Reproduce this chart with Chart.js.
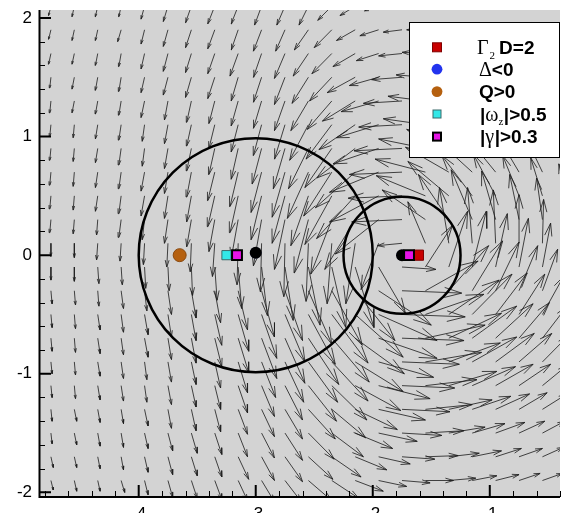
<!DOCTYPE html>
<html><head><meta charset="utf-8">
<script src="https://cdn.jsdelivr.net/npm/chart.js@4.4.1/dist/chart.umd.min.js"></script>
<style>html,body{margin:0;padding:0;background:#fff;overflow:hidden}#wrap{width:569px;height:513px;position:relative}</style>
</head><body><div id="wrap"><canvas id="c" width="569" height="513"></canvas></div>
<script>
// ---- vector field grid (arrow tails) ----
const xGrid = [-4.75,-4.55,-4.35,-4.15,-3.95,-3.75,-3.55,-3.35,-3.15,-2.95,-2.75,-2.55,-2.35,-2.15,-1.95,-1.75,-1.55,-1.35,-1.15,-0.95,-0.75,-0.55,-0.35];
const yGrid = [-1.9,-1.7,-1.5,-1.3,-1.1,-0.9,-0.7,-0.5,-0.3,-0.1,0.1,0.3,0.5,0.7,0.9,1.1,1.3,1.5,1.7,1.9,2.1];
// u component of each arrow (one row per yGrid value)
const uRows = [
[0.02,0.02,0.02,0.03,0.03,0.04,0.05,0.06,0.08,0.11,0.14,0.20,0.23,0.24,0.24,0.24,0.24,0.23,0.21,0.20,0.18,0.17,0.15],
[0.02,0.02,0.02,0.02,0.03,0.04,0.05,0.06,0.09,0.11,0.15,0.21,0.25,0.27,0.27,0.28,0.28,0.26,0.25,0.22,0.20,0.18,0.16],
[0.01,0.02,0.02,0.02,0.03,0.04,0.05,0.06,0.08,0.11,0.15,0.22,0.27,0.32,0.33,0.34,0.33,0.31,0.28,0.25,0.22,0.19,0.17],
[0.01,0.02,0.02,0.02,0.03,0.03,0.04,0.05,0.08,0.11,0.15,0.23,0.29,0.36,0.40,0.41,0.40,0.37,0.33,0.29,0.24,0.21,0.18],
[0.01,0.01,0.02,0.02,0.02,0.03,0.04,0.05,0.08,0.11,0.15,0.24,0.30,0.39,0.44,0.45,0.44,0.41,0.37,0.32,0.27,0.21,0.18],
[0.01,0.01,0.02,0.02,0.02,0.03,0.04,0.05,0.08,0.12,0.16,0.25,0.31,0.41,0.47,0.49,0.48,0.44,0.38,0.33,0.28,0.22,0.18],
[0.01,0.01,0.02,0.02,0.03,0.03,0.04,0.06,0.09,0.13,0.17,0.26,0.32,0.42,0.50,0.53,0.51,0.45,0.38,0.32,0.26,0.21,0.16],
[0.01,0.01,0.02,0.02,0.03,0.03,0.04,0.06,0.09,0.13,0.17,0.23,0.31,0.41,0.50,0.54,0.50,0.43,0.34,0.27,0.22,0.18,0.14],
[0.01,0.01,0.01,0.02,0.02,0.03,0.04,0.05,0.08,0.11,0.15,0.20,0.26,0.34,0.45,0.51,0.45,0.34,0.26,0.20,0.16,0.13,0.11],
[0.00,0.00,0.01,0.01,0.01,0.01,0.01,0.02,0.03,0.05,0.07,0.10,0.12,0.16,0.23,0.29,0.23,0.16,0.12,0.10,0.08,0.07,0.06],
[0.00,0.00,-0.01,-0.01,-0.01,-0.01,-0.01,-0.02,-0.01,-0.01,-0.01,-0.02,-0.04,-0.08,-0.15,-0.21,-0.15,-0.08,-0.04,-0.02,0.00,0.01,0.02],
[-0.01,-0.01,-0.01,-0.02,-0.02,-0.03,-0.04,-0.05,-0.06,-0.07,-0.09,-0.12,-0.18,-0.26,-0.37,-0.43,-0.37,-0.26,-0.18,-0.12,-0.08,-0.05,-0.03],
[-0.01,-0.01,-0.02,-0.02,-0.03,-0.03,-0.04,-0.06,-0.07,-0.09,-0.11,-0.15,-0.23,-0.33,-0.42,-0.46,-0.42,-0.35,-0.26,-0.19,-0.14,-0.10,-0.06],
[-0.01,-0.01,-0.02,-0.02,-0.03,-0.03,-0.04,-0.06,-0.07,-0.09,-0.11,-0.18,-0.24,-0.34,-0.42,-0.45,-0.43,-0.37,-0.30,-0.24,-0.18,-0.13,-0.08],
[-0.01,-0.01,-0.02,-0.02,-0.02,-0.03,-0.04,-0.05,-0.06,-0.08,-0.10,-0.17,-0.23,-0.33,-0.39,-0.41,-0.40,-0.36,-0.30,-0.25,-0.20,-0.14,-0.10],
[-0.01,-0.01,-0.02,-0.02,-0.02,-0.03,-0.04,-0.05,-0.06,-0.07,-0.09,-0.16,-0.22,-0.31,-0.36,-0.37,-0.36,-0.33,-0.29,-0.24,-0.19,-0.13,-0.10],
[-0.01,-0.02,-0.02,-0.02,-0.03,-0.03,-0.04,-0.05,-0.06,-0.07,-0.09,-0.15,-0.21,-0.28,-0.32,-0.33,-0.32,-0.29,-0.25,-0.21,-0.16,-0.13,-0.10],
[-0.01,-0.02,-0.02,-0.02,-0.03,-0.04,-0.05,-0.06,-0.06,-0.07,-0.09,-0.14,-0.19,-0.24,-0.25,-0.26,-0.25,-0.23,-0.20,-0.17,-0.14,-0.11,-0.09],
[-0.02,-0.02,-0.02,-0.02,-0.03,-0.04,-0.05,-0.06,-0.07,-0.07,-0.09,-0.13,-0.17,-0.19,-0.19,-0.20,-0.20,-0.18,-0.17,-0.14,-0.12,-0.10,-0.08],
[-0.02,-0.02,-0.02,-0.03,-0.03,-0.04,-0.05,-0.06,-0.06,-0.07,-0.08,-0.12,-0.15,-0.16,-0.16,-0.16,-0.16,-0.15,-0.13,-0.12,-0.10,-0.09,-0.07],
[-0.02,-0.02,-0.02,-0.02,-0.03,-0.04,-0.05,-0.06,-0.06,-0.06,-0.07,-0.08,-0.12,-0.13,-0.12,-0.13,-0.13,-0.12,-0.11,-0.10,-0.09,-0.07,-0.06]
];
// v component of each arrow
const vRows = [
[-0.08,-0.09,-0.09,-0.10,-0.12,-0.14,-0.15,-0.16,-0.17,-0.18,-0.18,-0.17,-0.15,-0.09,-0.05,-0.02,0.00,0.02,0.04,0.05,0.06,0.06,0.06],
[-0.09,-0.09,-0.10,-0.11,-0.13,-0.15,-0.16,-0.17,-0.19,-0.20,-0.21,-0.19,-0.17,-0.11,-0.06,-0.02,0.01,0.03,0.05,0.07,0.07,0.08,0.08],
[-0.09,-0.10,-0.11,-0.12,-0.13,-0.15,-0.17,-0.18,-0.20,-0.21,-0.23,-0.22,-0.20,-0.13,-0.07,-0.02,0.02,0.05,0.08,0.09,0.10,0.10,0.10],
[-0.10,-0.10,-0.11,-0.12,-0.14,-0.16,-0.18,-0.19,-0.21,-0.23,-0.25,-0.25,-0.24,-0.17,-0.09,-0.02,0.04,0.08,0.11,0.13,0.14,0.13,0.13],
[-0.10,-0.11,-0.12,-0.13,-0.14,-0.16,-0.18,-0.20,-0.23,-0.26,-0.29,-0.30,-0.29,-0.21,-0.11,-0.02,0.05,0.12,0.16,0.18,0.18,0.17,0.16],
[-0.10,-0.11,-0.12,-0.14,-0.15,-0.17,-0.19,-0.22,-0.26,-0.30,-0.34,-0.34,-0.33,-0.25,-0.13,-0.02,0.08,0.16,0.21,0.24,0.24,0.22,0.19],
[-0.11,-0.12,-0.13,-0.14,-0.16,-0.18,-0.21,-0.24,-0.29,-0.34,-0.38,-0.39,-0.37,-0.30,-0.17,-0.02,0.11,0.21,0.27,0.29,0.30,0.27,0.23],
[-0.11,-0.12,-0.13,-0.15,-0.17,-0.19,-0.22,-0.26,-0.31,-0.37,-0.40,-0.42,-0.41,-0.36,-0.22,-0.02,0.17,0.29,0.34,0.35,0.34,0.32,0.27],
[-0.11,-0.12,-0.13,-0.15,-0.17,-0.20,-0.23,-0.27,-0.33,-0.39,-0.42,-0.45,-0.46,-0.42,-0.29,-0.02,0.25,0.38,0.42,0.41,0.38,0.35,0.29],
[-0.11,-0.12,-0.14,-0.15,-0.18,-0.20,-0.24,-0.28,-0.35,-0.41,-0.45,-0.49,-0.51,-0.51,-0.39,-0.02,0.35,0.47,0.47,0.45,0.41,0.37,0.31],
[-0.11,-0.12,-0.14,-0.15,-0.18,-0.20,-0.24,-0.28,-0.35,-0.41,-0.45,-0.49,-0.51,-0.51,-0.39,-0.02,0.35,0.47,0.47,0.45,0.41,0.37,0.31],
[-0.11,-0.12,-0.13,-0.15,-0.17,-0.20,-0.23,-0.27,-0.33,-0.39,-0.42,-0.45,-0.46,-0.42,-0.29,-0.02,0.25,0.38,0.42,0.41,0.38,0.35,0.29],
[-0.11,-0.12,-0.13,-0.15,-0.17,-0.19,-0.22,-0.26,-0.31,-0.37,-0.40,-0.42,-0.41,-0.36,-0.22,-0.02,0.17,0.29,0.34,0.35,0.34,0.32,0.27],
[-0.11,-0.12,-0.13,-0.14,-0.16,-0.18,-0.21,-0.24,-0.29,-0.34,-0.38,-0.39,-0.37,-0.30,-0.17,-0.02,0.11,0.21,0.27,0.29,0.30,0.27,0.23],
[-0.10,-0.11,-0.12,-0.14,-0.15,-0.17,-0.19,-0.22,-0.26,-0.30,-0.34,-0.34,-0.33,-0.25,-0.13,-0.02,0.08,0.16,0.21,0.24,0.24,0.22,0.19],
[-0.10,-0.11,-0.12,-0.13,-0.14,-0.16,-0.18,-0.20,-0.23,-0.26,-0.29,-0.30,-0.29,-0.21,-0.11,-0.02,0.05,0.12,0.16,0.18,0.18,0.17,0.16],
[-0.10,-0.10,-0.11,-0.12,-0.14,-0.16,-0.18,-0.19,-0.21,-0.23,-0.25,-0.25,-0.24,-0.17,-0.09,-0.02,0.04,0.08,0.11,0.13,0.14,0.13,0.13],
[-0.09,-0.10,-0.11,-0.12,-0.13,-0.15,-0.17,-0.18,-0.20,-0.21,-0.23,-0.22,-0.20,-0.13,-0.07,-0.02,0.02,0.05,0.08,0.09,0.10,0.10,0.10],
[-0.09,-0.09,-0.10,-0.11,-0.13,-0.15,-0.16,-0.17,-0.19,-0.20,-0.21,-0.19,-0.17,-0.11,-0.06,-0.02,0.01,0.03,0.05,0.07,0.07,0.08,0.08],
[-0.08,-0.09,-0.09,-0.10,-0.12,-0.14,-0.15,-0.16,-0.17,-0.18,-0.18,-0.17,-0.15,-0.09,-0.05,-0.02,0.00,0.02,0.04,0.05,0.06,0.06,0.06],
[-0.08,-0.09,-0.09,-0.09,-0.11,-0.13,-0.14,-0.15,-0.15,-0.16,-0.16,-0.16,-0.12,-0.08,-0.04,-0.02,0.00,0.01,0.02,0.03,0.04,0.05,0.05]
];
// ---- circles ----
const circleCenterX = [-3.0, -1.75];
const circleCenterY = [0.0, 0.0];
const circleRadius = [1.0, 0.5];
// ---- point markers ----
const seriesLabels = ['\u0393\u2082 D=2', '\u0394<0', 'Q>0', '|\u03c9z|>0.5', '|\u03b3|>0.3'];
const gamma2X = [-1.61];        const gamma2Y = [0.0];
const deltaX = [-3.0, -1.75];   const deltaY = [0.02, 0.0];
const qX = [-3.65];             const qY = [0.0];
const omegaX = [-3.25];         const omegaY = [0.0];
const shearX = [-3.16, -1.69];  const shearY = [0.0, 0.0];
const centerX = [-3.0, -1.75];  const centerY = [0.02, 0.0];
// ---- axes ----
const xTicks = [-4, -3, -2, -1];
const yTicks = [-2, -1, 0, 1, 2];
const xRange = [-4.852, -0.40];
const yRange = [-2.039, 2.067];
const minorStep = 0.2;

const pts = (xs, ys) => xs.map((x, i) => ({x: x, y: ys[i]}));

// arrow polylines (shaft + open head) built from the grid and components
const arrowData = [];
const headFrac = 0.3, headAng = 16 * Math.PI / 180;
yGrid.forEach((y0, j) => xGrid.forEach((x0, k) => {
  const u = uRows[j][k], v = vRows[j][k];
  const L = Math.hypot(u, v);
  if (!L) return;
  const hx = x0 + u, hy = y0 + v, a = Math.atan2(v, u), h = L * headFrac;
  arrowData.push({x: x0, y: y0}, {x: hx, y: hy}, {x: hx, y: null},
    {x: hx - h * Math.cos(a - headAng), y: hy - h * Math.sin(a - headAng)}, {x: hx, y: hy},
    {x: hx - h * Math.cos(a + headAng), y: hy - h * Math.sin(a + headAng)}, {x: hx, y: null});
}));

const COL = {red:'#c80000', blue:'#2233ee', orange:'#b5600f', cyan:'#33e8e8', magenta:'#e614e6'};

const bgPlugin = {
  id: 'bg',
  beforeDraw(chart) {
    const {ctx, chartArea: a} = chart;
    ctx.save();
    ctx.fillStyle = '#fff'; ctx.fillRect(0, 0, chart.width, chart.height);
    ctx.fillStyle = '#d3d3d3'; ctx.fillRect(a.left, a.top, a.right - a.left, a.bottom - a.top);
    ctx.restore();
  }
};

const axesPlugin = {
  id: 'axesInward',
  afterDatasetsDraw(chart) {
    const {ctx, chartArea: a, scales: {x, y}} = chart;
    ctx.save();
    ctx.strokeStyle = '#000';
    ctx.lineWidth = 1;
    ctx.beginPath();
    for (let i = Math.ceil(yRange[0] / minorStep); i * minorStep <= yRange[1]; i++) {
      const v = i * minorStep; if (Math.abs(v - Math.round(v)) < 1e-6) continue;
      const p = Math.round(y.getPixelForValue(v)) + 0.5;
      ctx.moveTo(a.left, p); ctx.lineTo(a.left + 6, p);
    }
    for (let i = Math.ceil(xRange[0] / minorStep); i * minorStep <= xRange[1]; i++) {
      const v = i * minorStep; if (Math.abs(v - Math.round(v)) < 1e-6) continue;
      const p = Math.round(x.getPixelForValue(v)) + 0.5;
      ctx.moveTo(p, a.bottom); ctx.lineTo(p, a.bottom - 6);
    }
    ctx.stroke();
    ctx.lineWidth = 2;
    ctx.beginPath();
    yTicks.forEach(v => { const p = y.getPixelForValue(v); ctx.moveTo(a.left, p); ctx.lineTo(a.left + 12, p); });
    xTicks.forEach(v => { const p = x.getPixelForValue(v); ctx.moveTo(p, a.bottom); ctx.lineTo(p, a.bottom - 12); });
    ctx.stroke();
    ctx.beginPath();
    ctx.moveTo(a.left + 0.5, a.top); ctx.lineTo(a.left + 0.5, a.bottom + 1);
    ctx.moveTo(a.left - 0.5, a.bottom); ctx.lineTo(a.right, a.bottom);
    ctx.stroke();
    ctx.restore();
  }
};

const legendPlugin = {
  id: 'fieldLegend',
  afterDraw(chart) {
    const ctx = chart.ctx;
    const bx = 409, by = 22, bw = 150, bh = 135;
    ctx.save();
    ctx.fillStyle = '#fff'; ctx.fillRect(bx, by, bw, bh);
    ctx.strokeStyle = '#000'; ctx.lineWidth = 1; ctx.strokeRect(bx + 0.5, by + 0.5, bw, bh);
    const mx = 437, rows = [47.3, 69.2, 91.6, 114, 136.6];
    const sq = (cy, s, fill, border, bwid) => {
      ctx.fillStyle = fill; ctx.fillRect(mx - s / 2, cy - s / 2, s, s);
      ctx.strokeStyle = border; ctx.lineWidth = bwid; ctx.strokeRect(mx - s / 2, cy - s / 2, s, s);
    };
    const ci = (cy, r, fill) => { ctx.fillStyle = fill; ctx.beginPath(); ctx.arc(mx, cy, r, 0, 2 * Math.PI); ctx.fill(); };
    sq(rows[0], 9, COL.red, '#800000', 1);
    ci(rows[1], 5.4, COL.blue);
    ci(rows[2], 5.4, COL.orange);
    sq(rows[3], 8, COL.cyan, '#3a6a6a', 1);
    sq(rows[4], 8, COL.magenta, '#000', 2);
    const B = 'bold 19px "Liberation Sans", Arial, sans-serif';
    const S = '20px "Liberation Serif", "Times New Roman", serif';
    const SUB = '11px "Liberation Serif", "Times New Roman", serif';
    ctx.fillStyle = '#000';
    ctx.textBaseline = 'alphabetic';
    const seq = (x, cy, parts) => {
      const base = cy + 6.8;
      parts.forEach(([t, f, dy, gap]) => {
        ctx.font = f;
        ctx.fillText(t, x, base + (dy || 0));
        x += ctx.measureText(t).width + (gap || 0);
      });
    };
    seq(477, rows[0], [['\u0393', S, 0, 1], ['2', SUB, 5, 4], ['D=2', B]]);
    seq(479, rows[1], [['\u0394', S, 0, 0], ['<0', B]]);
    seq(479, rows[2], [['Q>0', B]]);
    seq(480, rows[3], [['|', B, 0, 0], ['\u03c9', S, 0, 0], ['z', SUB, 4, 0.5], ['|>0.5', B]]);
    seq(480, rows[4], [['|', B, 0, 0], ['\u03b3', S, 0, 0.5], ['|>0.3', B]]);
    ctx.restore();
  }
};

const tickFont = {family: '"Liberation Sans", Arial, sans-serif', size: 17};

new Chart(document.getElementById('c'), {
  type: 'scatter',
  data: {
    datasets: [
      {type: 'line', label: 'velocity', data: arrowData, order: 100, showLine: true, spanGaps: false,
       borderColor: 'rgba(30,30,30,0.82)', borderWidth: 1, pointRadius: 0, tension: 0, fill: false},
      {label: 'circles', data: pts(circleCenterX, circleCenterY), order: 90, showLine: false,
       pointStyle: 'circle', pointBackgroundColor: 'rgba(0,0,0,0)', pointBorderColor: '#000', pointBorderWidth: 2.5,
       pointRadius: (c) => { const s = c.chart.scales.x, i = c.dataIndex;
         return Math.abs(s.getPixelForValue(circleCenterX[i] + circleRadius[i]) - s.getPixelForValue(circleCenterX[i])); }},
      {label: seriesLabels[1], data: pts(deltaX, deltaY), order: 80, pointStyle: 'circle', pointRadius: 5.5,
       pointBackgroundColor: COL.blue, pointBorderColor: COL.blue, pointBorderWidth: 0},
      {label: 'center', data: pts(centerX, centerY), order: 70, pointStyle: 'circle', pointRadius: 6,
       pointBackgroundColor: '#000', pointBorderColor: '#000', pointBorderWidth: 0},
      {label: seriesLabels[2], data: pts(qX, qY), order: 60, pointStyle: 'circle', pointRadius: 6.5,
       pointBackgroundColor: COL.orange, pointBorderColor: '#8a4a10', pointBorderWidth: 1},
      {label: seriesLabels[3], data: pts(omegaX, omegaY), order: 50, pointStyle: 'rect', pointRadius: 6.5,
       pointBackgroundColor: COL.cyan, pointBorderColor: '#3a6a6a', pointBorderWidth: 1},
      {label: seriesLabels[0], data: pts(gamma2X, gamma2Y), order: 40, pointStyle: 'rect', pointRadius: 7.2,
       pointBackgroundColor: COL.red, pointBorderColor: '#800000', pointBorderWidth: 1},
      {label: seriesLabels[4], data: pts(shearX, shearY), order: 30, pointStyle: 'rect', pointRadius: 7,
       pointBackgroundColor: COL.magenta, pointBorderColor: '#000', pointBorderWidth: 2}
    ]
  },
  options: {
    responsive: false, devicePixelRatio: 1, animation: false, events: [],
    layout: {padding: {top: 10, left: 0, right: 0, bottom: 0}},
    plugins: {legend: {display: false}, tooltip: {enabled: false}},
    scales: {
      x: {type: 'linear', position: 'bottom', min: xRange[0], max: xRange[1],
          grid: {display: false, drawTicks: false}, border: {display: false},
          ticks: {padding: 7, color: '#000', font: tickFont},
          afterBuildTicks: (s) => { s.ticks = xTicks.map(v => ({value: v})); },
          afterFit: (s) => { s.height = 16; s.paddingLeft = 0; s.paddingRight = 0; }},
      y: {type: 'linear', position: 'left', min: yRange[0], max: yRange[1],
          grid: {display: false, drawTicks: false}, border: {display: false},
          ticks: {padding: 7, color: '#000', font: tickFont},
          afterBuildTicks: (s) => { s.ticks = yTicks.map(v => ({value: v})); },
          afterFit: (s) => { s.width = 39; s.paddingTop = 0; s.paddingBottom = 0; }}
    }
  },
  plugins: [bgPlugin, axesPlugin, legendPlugin]
});
</script></body></html>
